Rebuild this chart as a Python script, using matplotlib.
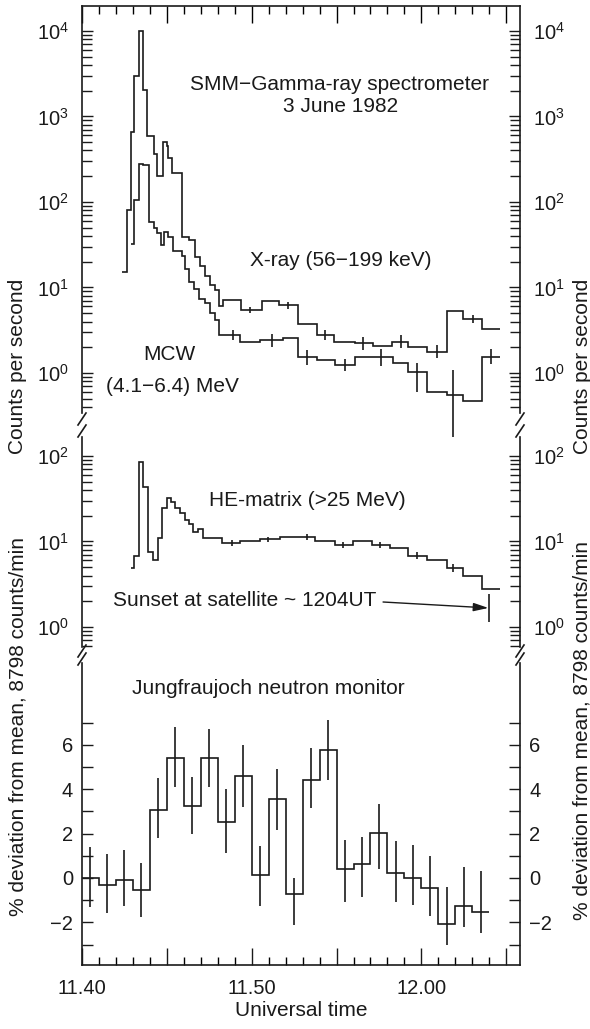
import numpy as np
import matplotlib
matplotlib.use("Agg")
import matplotlib.pyplot as plt
from matplotlib.lines import Line2D
from matplotlib.ticker import LogLocator, NullFormatter, FixedLocator, FixedFormatter

plt.rcParams['font.family'] = ['Liberation Sans', 'DejaVu Sans']
plt.rcParams['mathtext.fontset'] = 'custom'
plt.rcParams['mathtext.rm'] = 'Liberation Sans'
plt.rcParams['mathtext.it'] = 'Liberation Sans:italic'
plt.rcParams['mathtext.bf'] = 'Liberation Sans:bold'

# ---------------- data (time in minutes after 11:00 UT) ----------------
xray_edges = [42.34, 42.63, 42.87, 43.08, 43.38, 43.61, 43.81, 44.24, 44.44, 44.76,
              44.99, 45.09, 45.29, 45.88, 46.32, 46.66, 46.95, 47.25, 47.54, 47.84,
              48.09, 48.29, 49.35, 50.59, 51.63, 52.75, 53.83, 54.85, 56.09, 57.17,
              58.25, 59.23, 60.31, 61.49, 62.47, 63.59, 64.63]
xray_counts = [15, 80, 650, 2950, 10000, 2040, 590, 363, 200, 507,
               447, 325, 216, 38.6, 36, 23, 17.6, 13.5, 10.7, 9.3,
               6.0, 7.1, 5.4, 7.0, 6.2, 3.7, 2.78, 2.32, 2.22, 2.07,
               2.32, 2.0, 1.78, 5.3, 4.25, 3.25]
xray_err_t = [49.90, 52.16, 54.32, 56.54, 58.80, 60.90, 63.06]
xray_err_lo = [4.98, 5.6, 2.4, 1.86, 1.95, 1.48, 3.8]
xray_err_hi = [5.84, 6.8, 3.2, 2.64, 2.78, 2.15, 4.8]

mcw_edges = [42.87, 43.08, 43.38, 43.61, 43.95, 44.24, 44.44, 44.64, 44.83, 45.09,
             45.34, 45.88, 46.07, 46.32, 46.62, 46.91, 47.25, 47.54, 47.84, 48.09,
             49.31, 50.49, 51.86, 52.75, 53.83, 54.91, 56.09, 57.27, 58.34, 59.23,
             60.31, 61.49, 62.47, 63.59, 64.63]
mcw_counts = [32, 105, 280, 270, 59, 50, 43, 31.6, 45, 39,
              27, 23.4, 16.6, 11.5, 9.6, 7.4, 6.5, 5.0, 4.2, 2.77,
              2.32, 2.4, 2.54, 1.52, 1.42, 1.24, 1.55, 1.52, 1.32, 1.04,
              0.6, 0.55, 0.47, 1.55]
mcw_err_t = [48.92, 51.18, 53.24, 55.50, 57.60, 59.72, 61.88, 64.08]
mcw_err_lo = [2.43, 2.04, 1.24, 1.06, 1.21, 0.6, 0.15, 1.26]
mcw_err_hi = [3.17, 2.82, 1.86, 1.46, 1.91, 1.31, 1.08, 1.91]

he_edges = [42.89, 43.08, 43.38, 43.61, 43.91, 44.17, 44.50, 44.73, 44.99, 45.23,
            45.48, 45.77, 46.07, 46.32, 46.56, 46.85, 47.15, 48.23, 49.31, 50.49,
            51.67, 53.73, 54.91, 55.99, 57.07, 58.15, 59.23, 60.31, 61.49, 62.47,
            63.55, 64.63]
he_counts = [4.9, 6.8, 86, 43.7, 7.5, 6.0, 10.9, 24.6, 32, 29,
             24.6, 21.5, 17.8, 16.2, 13, 13.9, 10.9, 9.6, 10, 10.6,
             11.2, 10.2, 9.1, 10, 9.1, 8.5, 6.8, 6.0, 4.9, 3.9, 2.8]
he_err_t = [48.82, 50.98, 53.24, 55.40, 57.56, 59.72, 61.88, 64.0]
he_err_lo = [8.9, 9.8, 10.4, 8.4, 8.4, 6.2, 4.4, 1.14]
he_err_hi = [10.4, 11.4, 12.1, 9.9, 9.9, 7.5, 5.5, 2.43]

nm_edges = list(range(40, 65))
nm_dev = [0, -0.32, -0.09, -0.54, 3.06, 5.39, 3.26, 5.39, 2.54, 4.6,
          0.14, 3.54, -0.73, 4.41, 5.77, 0.41, 0.62, 2.01, 0.21, -0.02,
          -0.47, -2.09, -1.25, -1.52]
nm_err_hi = [1.4, 1.07, 1.26, 0.69, 4.49, 6.8, 4.56, 6.7, 4.0, 6.0,
             1.46, 4.89, 0.0, 5.85, 7.1, 1.7, 1.85, 3.35, 1.65, 1.5,
             1.0, -0.39, 0.5, 0.3]
nm_err_lo = [-1.3, -1.6, -1.25, -1.77, 1.79, 4.1, 1.97, 4.1, 1.14, 3.2,
             -1.27, 2.15, -2.1, 3.15, 4.4, -1.1, -0.86, 0.41, -1.1, -1.2,
             -1.7, -3.01, -2.2, -2.46]

major_x = [40, 45, 50, 55, 60, 65]
major_lab = ['11.40', '', '11.50', '', '12.00', '']
nm_ticks = list(range(-3, 8))
nm_tick_labels = ['', '\u22122', '', '0', '', '2', '', '4', '', '6', '']

# ---------------- figure ----------------
W, H = 590, 1029
fig = plt.figure(figsize=(W / 100, H / 100), dpi=100)

def fx(px):
    return px / W

def fy(py):
    return 1 - py / H

L, R = 82, 520
ax1 = fig.add_axes([fx(L), fy(413), fx(R) - fx(L), (413 - 6) / H])
ax2 = fig.add_axes([fx(L), fy(647), fx(R) - fx(L), (647 - 437) / H])
ax3 = fig.add_axes([fx(L), fy(965), fx(R) - fx(L), (965 - 663) / H])

ink = '#1a1a1a'
lw = 1.2
TS = 14.5   # tick label size
AS = 15     # annotation size

xmin, xmax = 40, 65.81
for ax in (ax1, ax2, ax3):
    ax.set_xlim(xmin, xmax)
    for s in ax.spines.values():
        s.set_linewidth(lw)
        s.set_color(ink)

# panel 1
ax1.stairs(xray_counts, xray_edges, color=ink, lw=lw, baseline=None)
ax1.stairs(mcw_counts, mcw_edges, color=ink, lw=lw, baseline=None)
ax1.vlines(xray_err_t, xray_err_lo, xray_err_hi, color=ink, lw=lw)
ax1.vlines(mcw_err_t, mcw_err_lo, mcw_err_hi, color=ink, lw=lw, clip_on=False)
ax1.set_yscale('log')
ax1.set_ylim(10 ** -0.468, 10 ** 4.292)
ax1.spines['bottom'].set_visible(False)

# panel 2
ax2.stairs(he_counts, he_edges, color=ink, lw=lw, baseline=None)
ax2.vlines(he_err_t, he_err_lo, he_err_hi, color=ink, lw=lw)
ax2.set_yscale('log')
ax2.set_ylim(10 ** -0.234, 10 ** 2.222)
ax2.spines['bottom'].set_visible(False)
ax2.spines['top'].set_visible(False)

# panel 3
ax3.stairs(nm_dev, nm_edges, color=ink, lw=lw, baseline=None)
nm_mid = [e + 0.5 for e in nm_edges[:-1]]
ax3.vlines(nm_mid, nm_err_lo, nm_err_hi, color=ink, lw=lw)
ax3.set_ylim(-3.92, 9.68)
ax3.spines['top'].set_visible(False)

# y ticks
for ax in (ax1, ax2):
    ax.yaxis.set_major_locator(LogLocator(base=10, numticks=20))
    ax.yaxis.set_minor_locator(LogLocator(base=10, subs=np.arange(2, 10), numticks=40))
    ax.yaxis.set_minor_formatter(NullFormatter())
    ax.tick_params(axis='y', which='major', direction='in', length=8, width=1.0,
                   left=True, right=True, labelleft=True, labelright=True,
                   labelsize=TS, pad=9.5, colors=ink)
    ax.tick_params(axis='y', which='minor', direction='in', length=7, width=1.0,
                   left=True, right=True, colors=ink)
ax3.yaxis.set_major_locator(FixedLocator(nm_ticks))
ax3.yaxis.set_major_formatter(FixedFormatter(nm_tick_labels))
ax3.tick_params(axis='y', which='major', direction='in', length=8, width=1.0,
                left=True, right=True, labelleft=True, labelright=True,
                labelsize=TS, pad=6.5, colors=ink)

# x ticks
for ax in (ax1, ax2, ax3):
    ax.xaxis.set_major_locator(FixedLocator(major_x))
    ax.xaxis.set_minor_locator(FixedLocator(list(range(40, 66))))
ax3.xaxis.set_major_formatter(FixedFormatter(major_lab))
ax3.tick_params(axis='x', which='major', direction='in', length=12, width=1.0,
                bottom=True, top=False, labelsize=TS, pad=10, colors=ink)
ax3.tick_params(axis='x', which='minor', direction='in', length=6, width=1.0,
                bottom=True, top=False)
ax1.tick_params(axis='x', which='major', direction='in', length=12, width=1.0,
                bottom=False, top=True, labelbottom=False)
ax1.tick_params(axis='x', which='minor', direction='in', length=6, width=1.0,
                bottom=False, top=True)
ax2.tick_params(axis='x', which='both', bottom=False, top=False, labelbottom=False)

# break marks on the spines
def brk(xc, yc):
    fig.add_artist(Line2D([fx(xc - 4), fx(xc + 4)], [fy(yc + 6), fy(yc - 6)],
                          color=ink, lw=lw, transform=fig.transFigure))

for xc in (L, R):
    brk(xc, 419)
    brk(xc, 431)
    brk(xc, 651)
    brk(xc, 659)

# texts
def ftxt(x, y, s, size=AS, **kw):
    fig.text(fx(x), fy(y), s, ha='center', va='center', fontsize=size, color=ink, **kw)

ftxt(340, 84, 'SMM\u2212Gamma-ray spectrometer')
ftxt(341, 107, '3 June 1982')
ftxt(341, 260, 'X-ray (56\u2212199 keV)')
ftxt(169, 355, 'MCW')
ftxt(172, 386, '(4.1\u22126.4) MeV')
ftxt(307, 500, 'HE-matrix (>25 MeV)')
ftxt(245, 600, 'Sunset at satellite ~ 1204UT')
ftxt(268, 688, 'Jungfraujoch neutron monitor')
ftxt(301, 1010, 'Universal time')

ftxt(18, 366, 'Counts per second', rotation=90)
ftxt(18, 726, '% deviation from mean, 8798 counts/min', rotation=90)
ftxt(582, 366, 'Counts per second', rotation=90)
ftxt(582, 730, '% deviation from mean, 8798 counts/min', rotation=90)

# sunset arrow
ax2.annotate('', xy=(63.95, 1.67), xytext=(57.74, 1.96),
             arrowprops=dict(arrowstyle='-|>,head_length=0.9,head_width=0.25',
                             color=ink, lw=1.0, shrinkA=0, shrinkB=0))

fig.savefig('out.png', dpi=100)
